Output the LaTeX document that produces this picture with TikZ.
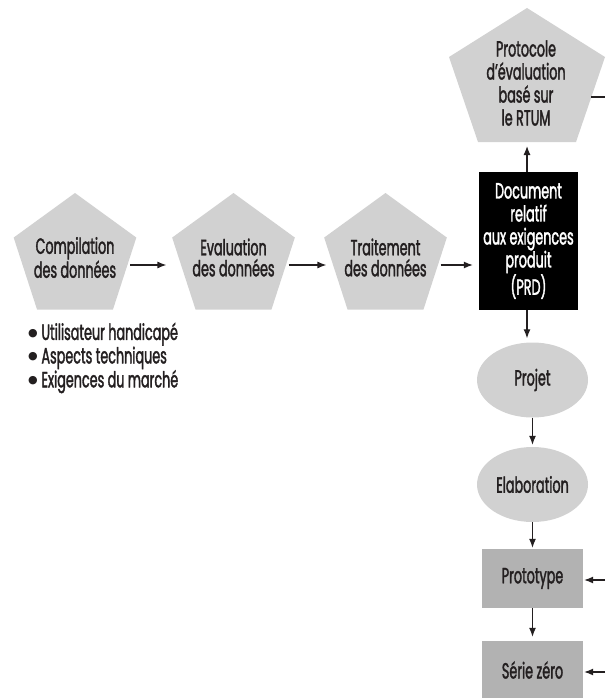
\documentclass[tikz,border=0pt]{standalone}
\usepackage{fontspec}
\setmainfont[FakeStretch=0.58,FakeBold=1.6]{Poppins}
\newfontfamily\dv{DejaVu Sans}
\usetikzlibrary{shapes.geometric,arrows.meta}
\definecolor{pentgray}{RGB}{209,209,209}
\definecolor{boxgray}{RGB}{178,178,178}
\definecolor{ink}{RGB}{35,31,32}
\newcommand{\blt}{\raisebox{3.5pt}{\dv\fontsize{11}{0}\selectfont ●}\,}
\tikzset{
  pent/.style={regular polygon, regular polygon sides=5, minimum size=129pt, inner sep=0pt, fill=pentgray, draw=none},
  txt/.style={font=\fontsize{22}{21}\selectfont, text=ink, align=center, inner sep=0pt},
  tallt/.style={font=\fontsize{22}{23}\selectfont, align=center, inner sep=0pt},
  oval/.style={ellipse, minimum width=111pt, minimum height=75pt, inner sep=0pt, fill=pentgray, draw=none},
  gbox/.style={rectangle, minimum width=101pt, inner sep=0pt, fill=boxgray, draw=none},
  arr/.style={draw=ink, line width=1.2pt, -{Latex[length=9pt,width=7pt]}},
  plain/.style={draw=ink, line width=1.2pt}
}
\begin{document}
\begin{tikzpicture}[x=1pt,y=-1pt]
\useasboundingbox (0,0) rectangle (605,698);
% top pentagon
\fill[pentgray] (527,8) -- (605,57) -- (576,142) -- (478,142) -- (449,57) -- cycle;
\coordinate (ptb) at (527,142);
\coordinate (ptr) at (591,97);
\coordinate (ptrend) at (605,97);
\node[txt, tallt, text=ink] (proto) at (526,83) {Protocole\\d’évaluation\\basé sur\\le RTUM};
\draw[plain] (ptr) -- (ptrend);
% row of pentagons
\node[pent] (comp) at (75,257.5) {};
\node[txt] (compt) at (comp.center) {Compilation\\des données};
\node[pent] (eval) at (233.5,257.5) {};
\node[txt] (evalt) at (eval.center) {Evaluation\\des données};
\node[pent] (trait) at (385.5,257.5) {};
\node[txt] (traitt) at (trait.center) {Traitement\\des données};
% PRD box
\node[rectangle, fill=black, minimum width=99pt, minimum height=138pt, inner sep=0pt] (doc) at (528.5,241) {};
\node[tallt, text=white] (doct) at (doc.center) {Document\\relatif\\aux exigences\\produit\\(PRD)};
% bullets
\node[txt, align=left, anchor=west, font=\fontsize{22}{21.5}\selectfont] (list) at (28,358) {\blt Utilisateur handicapé\\\blt Aspects techniques\\\blt Exigences du marché};
% right column
\node[oval] (projet) at (532.5,380) {};
\node[txt] (projett) at (projet.center) {Projet};
\node[oval] (elab) at (532.5,484.5) {};
\node[txt] (elabt) at (elab.center) {Elaboration};
\node[gbox, minimum height=59pt] (prot) at (532.5,578.5) {};
\node[txt] (prott) at (prot.center) {Prototype};
\node[gbox, minimum height=58pt] (serie) at (532.5,670) {};
\node[txt] (seriet) at (serie.center) {Série zéro};
\coordinate (inA) at (605,580);
\coordinate (inB) at (605,672);
% connectors
\draw[arr, shorten >=12pt] ([yshift=-7.5pt]comp.east) -- ([yshift=-7.5pt]eval.west);
\draw[arr, shorten >=4pt] ([yshift=-7.5pt]eval.east) -- ([yshift=-7.5pt]trait.west);
\draw[arr, shorten >=6pt] ([yshift=-7.5pt]trait.east) -- (doc.west |- 0,265);
\draw[arr, shorten >=4pt] ([xshift=-1.5pt]doc.north) -- (ptb);
\draw[arr, shorten >=4pt] ([xshift=-1.5pt]doc.south) -- ([xshift=-1.5pt]doc.south |- projet.north);
\draw[arr, shorten >=2pt] (projet.south) -- (elab.north);
\draw[arr, shorten >=1pt] (elab.south) -- (prot.north);
\draw[arr, shorten >=4pt] (prot.south) -- (serie.north);
\draw[arr, shorten >=1pt] (inA) -- (prot.east |- inA);
\draw[arr, shorten >=1pt] (inB) -- (serie.east |- inB);
\end{tikzpicture}
\end{document}
